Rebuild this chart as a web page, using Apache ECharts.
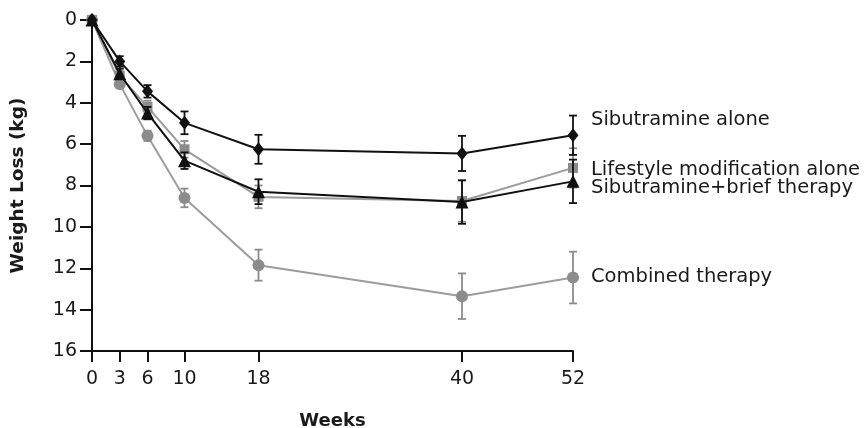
<!DOCTYPE html>
<html>
<head>
<meta charset="utf-8">
<script src="https://cdn.jsdelivr.net/npm/echarts@6/dist/echarts.min.js"></script>
<style>html,body{margin:0;padding:0;background:#fff}#c{width:866px;height:428px}</style>
</head>
<body>
<div id="c"></div>
<script>
const weeks = [0, 3, 6, 10, 18, 40, 52];
const yTicks = [0, 2, 4, 6, 8, 10, 12, 14, 16];
const seriesNames = ['Combined therapy', 'Lifestyle modification alone', 'Sibutramine+brief therapy', 'Sibutramine alone'];
const sibAlone = [0, 2.0, 3.45, 4.97, 6.25, 6.45, 5.57];
const sibAloneSE = [0, 0.25, 0.3, 0.55, 0.7, 0.85, 0.95];
const lifestyle = [0, 2.7, 4.2, 6.25, 8.55, 8.75, 7.15];
const lifestyleSE = [0, 0.25, 0.3, 0.4, 0.55, 1.0, 0.95];
const sibBrief = [0, 2.6, 4.5, 6.8, 8.3, 8.8, 7.8];
const sibBriefSE = [0, 0.25, 0.3, 0.4, 0.6, 1.05, 1.05];
const combined = [0, 3.1, 5.6, 8.6, 11.85, 13.35, 12.45];
const combinedSE = [0, 0.2, 0.25, 0.45, 0.75, 1.1, 1.25];

const BLACK = '#111';
const GRAY = '#8c8c8c';
const GRAYLINE = '#9c9c9c';

function pts(vals) { return weeks.map((w, i) => [w, vals[i]]); }
function errPts(vals, se) { return weeks.map((w, i) => [w, vals[i], se[i]]); }

function errSeries(vals, se, color, z) {
  return {
    type: 'custom',
    z: z,
    silent: true,
    data: errPts(vals, se),
    renderItem: function (params, api) {
      const x = api.value(0), m = api.value(1), s = api.value(2);
      if (!s) return null;
      const top = api.coord([x, m - s]);
      const bot = api.coord([x, m + s]);
      const hw = 4;
      const st = { stroke: color, lineWidth: 1.8 };
      return {
        type: 'group',
        children: [
          { type: 'line', shape: { x1: top[0], y1: top[1], x2: bot[0], y2: bot[1] }, style: st },
          { type: 'line', shape: { x1: top[0] - hw, y1: top[1], x2: top[0] + hw, y2: top[1] }, style: st },
          { type: 'line', shape: { x1: bot[0] - hw, y1: bot[1], x2: bot[0] + hw, y2: bot[1] }, style: st }
        ]
      };
    }
  };
}

function lineSeries(name, vals, lineColor, markColor, symbol, size, z, dy) {
  return {
    name: name,
    type: 'line',
    z: z,
    data: pts(vals),
    symbol: symbol,
    symbolSize: size,
    showAllSymbol: true,
    lineStyle: { color: lineColor, width: 2 },
    itemStyle: { color: markColor },
    emphasis: { disabled: true },
    endLabel: {
      show: true,
      formatter: name,
      distance: 18,
      offset: [0, dy],
      fontFamily: 'DejaVu Sans',
      fontSize: 19.5,
      color: '#1a1a1a'
    },
    labelLayout: { hideOverlap: false }
  };
}

const chart = echarts.init(document.getElementById('c'), null, { renderer: 'canvas' });
chart.setOption({
  backgroundColor: '#fff',
  animation: false,
  grid: { left: 92, right: 293, top: 20, bottom: 77, containLabel: false, outerBoundsMode: 'none' },
  xAxis: {
    type: 'value',
    position: 'bottom',
    min: 0,
    max: 52,
    name: 'Weeks',
    nameLocation: 'middle',
    nameGap: 61,
    nameTextStyle: { fontFamily: 'DejaVu Sans', fontWeight: 'bold', fontSize: 18, color: '#1a1a1a' },
    axisLine: { show: true, onZero: false, lineStyle: { color: BLACK, width: 2 } },
    axisTick: { show: true, length: 11, customValues: weeks, lineStyle: { color: BLACK, width: 2 } },
    axisLabel: { customValues: weeks, margin: 19, fontFamily: 'DejaVu Sans', fontSize: 19, color: '#1a1a1a' },
    splitLine: { show: false }
  },
  yAxis: {
    type: 'value',
    inverse: true,
    min: 0,
    max: 16,
    interval: 2,
    name: 'Weight Loss (kg)',
    nameLocation: 'middle',
    nameGap: 64,
    nameRotate: 90,
    nameTextStyle: { fontFamily: 'DejaVu Sans', fontWeight: 'bold', fontSize: 18.5, color: '#1a1a1a' },
    axisLine: { show: true, onZero: false, lineStyle: { color: BLACK, width: 2 } },
    axisTick: { show: true, length: 12, lineStyle: { color: BLACK, width: 2 } },
    axisLabel: { margin: 15, fontFamily: 'DejaVu Sans', fontSize: 19, color: '#1a1a1a',
      formatter: v => yTicks.includes(v) ? String(v) : '' },
    splitLine: { show: false }
  },
  series: [
    lineSeries(seriesNames[0], combined, GRAYLINE, GRAY, 'circle', 12, 2, -1),
    errSeries(combined, combinedSE, GRAY, 3),
    lineSeries(seriesNames[1], lifestyle, GRAYLINE, GRAY, 'rect', 10, 4, 2),
    errSeries(lifestyle, lifestyleSE, GRAY, 5),
    lineSeries(seriesNames[2], sibBrief, BLACK, BLACK, 'triangle', 13, 6, 7),
    errSeries(sibBrief, sibBriefSE, BLACK, 7),
    lineSeries(seriesNames[3], sibAlone, BLACK, BLACK, 'diamond', [11, 14], 8, -15),
    errSeries(sibAlone, sibAloneSE, BLACK, 9)
  ]
});
</script>
</body>
</html>
